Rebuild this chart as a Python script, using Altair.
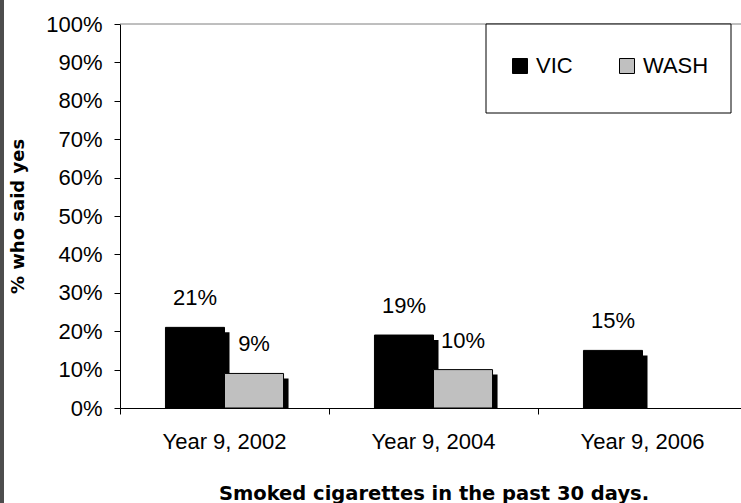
import altair as alt
import pandas as pd

# Survey results: share of Year 9 students who smoked in the past 30 days
years = ["Year 9, 2002", "Year 9, 2004", "Year 9, 2006"]
series = ["VIC", "WASH"]
vic = [0.21, 0.19, 0.15]
wash = [0.09, 0.10, None]
tick_values = [0.0, 0.1, 0.2, 0.3, 0.4, 0.5, 0.6, 0.7, 0.8, 0.9, 1.0]

rows = []
for i, yr in enumerate(years):
    rows.append({"year": yr, "series": "VIC", "value": vic[i]})
    if wash[i] is not None:
        rows.append({"year": yr, "series": "WASH", "value": wash[i]})
df = pd.DataFrame(rows)

label_font = "Liberation Sans"
title_font = "DejaVu Sans"
text_size = 22

y_scale = alt.Scale(domain=[0, 1], nice=False)
off_scale = alt.Scale(domain=series, paddingInner=0, paddingOuter=0.77)


def x_scale(shift):
    # band scale spanning three categories; the plot is cropped on the right
    return alt.Scale(domain=years, range=[shift, 627 + shift], paddingInner=0, paddingOuter=0)


one = pd.DataFrame({"k": [0]})

# thin dark strip along the left edge of the figure
strip = alt.Chart(one).mark_rect(color="#4d4d4d").encode(
    x=alt.value(-120), x2=alt.value(-116), y=alt.value(-24), y2=alt.value(479)
)

# grey top edge of the plot frame
top_edge = alt.Chart(one).mark_rule(color="#7f7f7f", strokeWidth=1).encode(
    x=alt.value(0), x2=alt.value(621), y=alt.value(0)
)

# white box framing the legend
legend_box = alt.Chart(one).mark_rect(fill="white", stroke="black", strokeWidth=1).encode(
    x=alt.value(366), x2=alt.value(611), y=alt.value(0), y2=alt.value(89)
)

# drop shadows behind each bar: shifted right by the scale, top lowered a little
shadow = alt.Chart(df).mark_bar(color="black", yOffset=5, y2Offset=0).encode(
    x=alt.X("year:N", scale=x_scale(5), axis=None),
    xOffset=alt.XOffset("series:N", scale=off_scale),
    y=alt.Y("value:Q", scale=y_scale, axis=None),
    y2=alt.datum(0),
)

bars = alt.Chart(df).mark_bar(stroke="black", strokeWidth=1).encode(
    x=alt.X(
        "year:N",
        scale=x_scale(0),
        sort=years,
        axis=alt.Axis(
            orient="bottom",
            labelAngle=0,
            ticks=False,
            tickSize=0,
            labelPadding=23,
            labelFont=label_font,
            labelFontSize=text_size,
            labelColor="black",
            domainColor="black",
            domainWidth=1,
            grid=False,
            title="Smoked cigarettes in the past 30 days.",
            titleFont=title_font,
            titleFontSize=19.5,
            titleFontWeight="bold",
            titleColor="black",
            titlePadding=32,
        ),
    ),
    xOffset=alt.XOffset("series:N", scale=off_scale),
    y=alt.Y(
        "value:Q",
        scale=y_scale,
        axis=alt.Axis(
            orient="left",
            values=tick_values,
            format=".0%",
            grid=False,
            tickSize=6,
            tickColor="black",
            domainColor="black",
            labelFont=label_font,
            labelFontSize=text_size,
            labelColor="black",
            labelPadding=12,
            title="% who said yes",
            titleFont=title_font,
            titleFontSize=18,
            titleFontWeight="bold",
            titleColor="black",
            titlePadding=18,
        ),
    ),
    color=alt.Color(
        "series:N",
        scale=alt.Scale(domain=series, range=["black", "#C0C0C0"]),
        legend=alt.Legend(
            title=None,
            orient="none",
            legendX=389,
            legendY=31,
            direction="horizontal",
            symbolType="square",
            symbolSize=225,
            symbolStrokeColor="black",
            symbolStrokeWidth=1,
            symbolOpacity=1,
            labelFont=label_font,
            labelFontSize=text_size,
            labelColor="black",
            labelOffset=5,
            columnPadding=43,
            padding=0,
        ),
    ),
)

labels = alt.Chart(df).mark_text(
    baseline="alphabetic", dy=-22, font=label_font, fontSize=text_size, color="black"
).encode(
    x=alt.X(
        "year:N",
        scale=x_scale(0),
        sort=years,
        axis=alt.Axis(
            orient="bottom",
            bandPosition=0,
            labels=False,
            ticks=True,
            tickSize=6,
            tickColor="black",
            domain=False,
            grid=False,
            title=None,
        ),
    ),
    xOffset=alt.XOffset("series:N", scale=off_scale),
    y=alt.Y("value:Q", scale=y_scale, axis=None),
    text=alt.Text("value:Q", format=".0%"),
)

chart = (
    alt.layer(strip, top_edge, legend_box, shadow, bars, labels)
    .resolve_scale(x="independent")
    .resolve_axis(y="independent")
    .properties(
        width=621,
        height=384,
        autosize=alt.AutoSizeParams(type="none"),
        padding={"left": 120, "top": 24, "right": 0, "bottom": 95},
        background="white",
    )
    .configure_view(stroke=None)
)

chart.save("out.html", embed_options={"renderer": "svg", "actions": False})
